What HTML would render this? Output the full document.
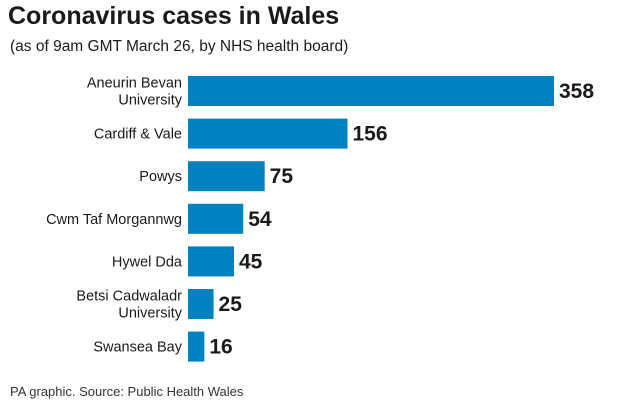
<!DOCTYPE html>
<html><head><meta charset="utf-8"><style>
body{margin:0;width:640px;height:405px;background:#fff;font-family:"Liberation Sans",sans-serif;overflow:hidden}
</style></head><body>
<svg width="640" height="405">
<text x="8" y="24" font-size="25" font-weight="bold" fill="#1a1a1a">Coronavirus cases in Wales</text>
<text x="10" y="51" font-size="15.5" fill="#1a1a1a">(as of 9am GMT March 26, by NHS health board)</text>
<g id="bars"></g>
<text x="10" y="396" font-size="13" fill="#333">PA graphic. Source: Public Health Wales</text>
</svg>
<script>
const categories=[["Aneurin Bevan","University"],["Cardiff & Vale"],["Powys"],["Cwm Taf Morgannwg"],["Hywel Dda"],["Betsi Cadwaladr","University"],["Swansea Bay"]];
const values=[358,156,75,54,45,25,16];
const x0=188,x1=554,maxV=358;
const xs=v=>x0+(x1-x0)*v/maxV;
const ys=i=>76+i*42.6;
const g=document.getElementById('bars');
const ns='http://www.w3.org/2000/svg';
categories.forEach((c,i)=>{
 const y=ys(i),h=30;
 const r=document.createElementNS(ns,'rect');
 
 
 r.setAttribute('x',x0);r.setAttribute('y',y);r.setAttribute('width',xs(values[i])-x0);r.setAttribute('height',h);r.setAttribute('fill','#0081c0');
 g.appendChild(r);
 const v=document.createElementNS(ns,'text');
 
 
 v.setAttribute('x',xs(values[i])+5);v.setAttribute('y',y+h/2+7);v.setAttribute('font-size','21');v.setAttribute('font-weight','bold');v.setAttribute('fill','#1a1a1a');
 v.textContent=values[i];g.appendChild(v);
 c.forEach((line,j)=>{
  const t=document.createElementNS(ns,'text');
  
  
  const cy=y+h/2+5+(j-(c.length-1)/2)*17;
  t.setAttribute('x',182);t.setAttribute('y',cy);t.setAttribute('text-anchor','end');t.setAttribute('font-size','14.5');t.setAttribute('fill','#1a1a1a');
  t.textContent=line;g.appendChild(t);
 });
});
</script>
</body></html>
